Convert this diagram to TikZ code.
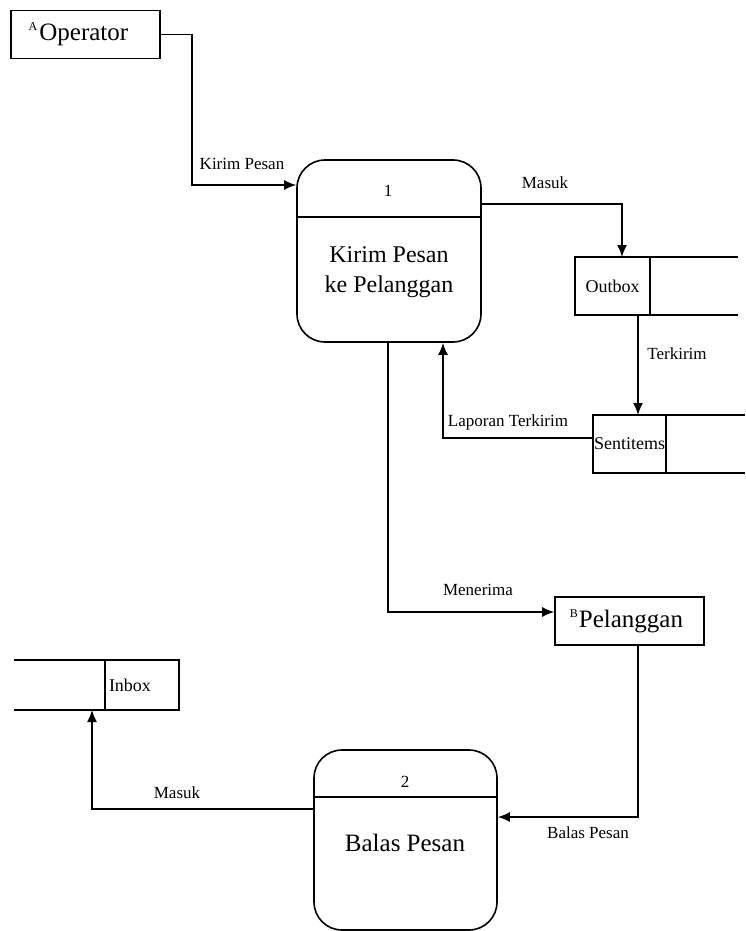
\documentclass[tikz,border=0pt]{standalone}
\usepackage{fontspec}
\setmainfont{Liberation Serif}
\usetikzlibrary{arrows.meta}

\begin{document}
\begin{tikzpicture}[x=1pt,y=-1pt,line width=1.6pt]
\tikzset{
  Entity/.style={draw,rectangle,minimum width=149pt,minimum height=48pt,inner sep=0pt,font=\fontsize{25}{27}\selectfont},
  Proses/.style={draw,rectangle,rounded corners=28pt,minimum width=184pt,inner sep=0pt},
  Simpan/.style={draw,rectangle,minimum height=58pt,inner sep=0pt,outer sep=0pt,font=\fontsize{18}{20}\selectfont},
  Alir/.style={-{Latex[length=12pt,width=10pt]}},
  Label/.style={font=\fontsize{17}{19}\selectfont},
  Judul/.style={align=center,font=\fontsize{24}{30}\selectfont}
}
\useasboundingbox (0,0) rectangle (745,931);
\node[Entity] (op) at (85.5,34.5) {\hspace*{-14pt}\raisebox{0.9ex}{\fontsize{12}{12}\selectfont A}\hspace{2pt}Operator};
\node[Entity] (plg) at (629.5,621) {\hspace*{-6pt}\raisebox{0.9ex}{\fontsize{12}{12}\selectfont B}\hspace{1pt}Pelanggan};
\node[Proses,minimum height=182pt] (p1) at (389,251) {};
\draw ([yshift=-58pt]p1.north west) -- ([yshift=-58pt]p1.north east);
\node[Label] (n1) at (388,191) {1};
\node[Judul] (t1) at (389,272) {Kirim Pesan\\ke Pelanggan};
\node[Proses,minimum height=180pt,minimum width=183pt] (p2) at (405.5,840) {};
\draw ([yshift=-48pt]p2.north west) -- ([yshift=-48pt]p2.north east);
\node[Label] (n2) at (405,782) {2};
\node[Judul,font=\fontsize{25}{30}\selectfont] (t2) at (405,843) {Balas Pesan};
\node[Simpan,minimum width=75pt] (outbox) at (612.5,286) {Outbox};
\draw (outbox.north east) -- ++(88,0);
\draw (outbox.south east) -- ++(88,0);
\node[Simpan,minimum width=73pt] (sent) at (629.5,444) {Sentitems};
\draw (sent.north east) -- ++(79,0);
\draw (sent.south east) -- ++(79,0);
\node[Simpan,minimum width=74pt,minimum height=50pt,text width=66pt,align=left] (inbox) at (142,685) {Inbox};
\draw (inbox.north west) -- ++(-91,0);
\draw (inbox.south west) -- ++(-91,0);
\coordinate (k1) at (192,185);
\coordinate (k2) at (622,204);
\coordinate (k3) at (638,0);
\coordinate (k4) at (443,438);
\coordinate (k5) at (388,612);
\coordinate (k6) at (638,817);
\coordinate (k7) at (92,809);
\draw[Alir] (op.east) -| (k1) -- (k1 -| p1.west);
\draw[Alir] (k2 -| p1.east) -- (k2) -- (k2 |- outbox.north);
\draw[Alir] (k3 |- outbox.south) -- (k3 |- sent.north);
\draw[Alir] (k4 -| sent.west) -- (k4) -- (k4 |- p1.south);
\draw[Alir] (k5 |- p1.south) -- (k5) -- (k5 -| plg.west);
\draw[Alir] (k6 |- plg.south) -- (k6) -- (k6 -| p2.east);
\draw[Alir] (k7 -| p2.west) -- (k7) -- (k7 |- inbox.south);
\node[Label] (l1) at (242,164) {Kirim Pesan};
\node[Label] (l2) at (545,183) {Masuk};
\node[Label] (l3) at (677,354) {Terkirim};
\node[Label] (l4) at (508,422) {Laporan Terkirim};
\node[Label] (l5) at (478,590) {Menerima};
\node[Label] (l6) at (588,833) {Balas Pesan};
\node[Label] (l7) at (177,793) {Masuk};
\end{tikzpicture}
\end{document}
